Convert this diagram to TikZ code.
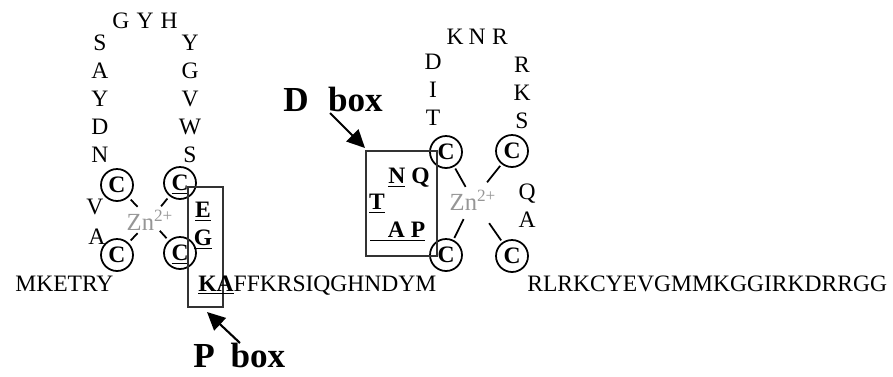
\documentclass[tikz,border=0pt]{standalone}
\usepackage{fontspec}
\setmainfont{Liberation Serif}
\usepackage{tikz}
\usetikzlibrary{arrows.meta, calc}
\definecolor{ZnGray}{RGB}{150, 150, 150}
\definecolor{BoxGray}{RGB}{50, 50, 50}

\begin{document}
\begin{tikzpicture}[x=0.02cm, y=-0.02cm,
    every node/.style={font=\fontsize{13.4}{16}\selectfont, inner sep=0pt},
    res/.style={text height=8.9pt, text depth=0pt},
    keyres/.style={res, font=\fontsize{13.4}{16}\selectfont\bfseries},
    cys/.style={res, circle, draw, line width=1pt, minimum size=0.64cm, font=\fontsize{13.4}{16}\selectfont\bfseries},
    zn/.style={text=ZnGray, font=\fontsize{14}{16}\selectfont},
    spoke/.style={line width=1pt},
    boxline/.style={draw=BoxGray, line width=1pt},
    boxlabel/.style={font=\fontsize{20}{24}\selectfont\bfseries, text height=13.2pt, text depth=0pt},
    pointer/.style={line width=1.2pt, -{Triangle[length=0.36cm, width=0.34cm]}}]
    \useasboundingbox (0,0) rectangle (893,376);

    % First zinc finger
    \foreach \l [count=\i] in {S,A,Y,D,N}
        \node[res] (fa\i) at (100,15+28*\i) {\l};
    \foreach \l [count=\i] in {Y,G,V,W,S}
        \node[res] (fb\i) at (190,15+28*\i) {\l};
    \foreach \l/\x [count=\i] in {G/121, Y/145, H/169}
        \node[res] (ft\i) at (\x,21) {\l};
    \node[res] (fv) at (95,207) {V};
    \node[res] (fw) at (97,237) {A};

    \node[cys] (c1) at (117,185) {C};
    \node[cys] (c2) at (180,183) {\underline{C}};
    \node[cys] (c3) at (117,255) {C};
    \node[cys] (c4) at (180,253) {\underline{C}};
    \node[zn] (zn1) at (150,220) {Zn\textsuperscript{2+}};
    \foreach \c in {c1,c2,c3,c4}
        \draw[spoke] ($(\c)!0.4cm!(zn1)$) -- ($(\c)!0.6cm!(zn1)$);

    % P box
    \node[keyres] (pE) at (203,210) {\underline{E}};
    \node[keyres] (pG) at (203,238) {\underline{G}};
    \draw[boxline] (188,187) rectangle (223,307);
    \node[boxlabel, anchor=west] (plabel) at (193,356) {P\hspace{9pt}box};
    \coordinate (ptail) at (240,343);
    \coordinate (ptip) at (207,312);
    \draw[pointer] (ptail) -- (ptip);

    % Sequence
    \node[anchor=base west] (seq1) at (15,291) {MKETRY};
    \node[anchor=base west] (seq2) at (198,291) {\underline{\textbf{KA}}FFKRSIQGHNDYM};
    \node[anchor=base west] (seq3) at (527,291) {RLRKCYEVGMMKGGIRKDRRGG};

    % Second zinc finger
    \foreach \l [count=\i] in {D,I,T}
        \node[res] (sa\i) at (433,34+28*\i) {\l};
    \foreach \l/\x [count=\i] in {K/455, N/477, R/500}
        \node[res] (st\i) at (\x,37) {\l};
    \foreach \l [count=\i] in {R,K,S}
        \node[res] (sb\i) at (522,37+28*\i) {\l};
    \node[res] (sq) at (527,192) {Q};
    \node[res] (sw) at (527,220) {A};

    \node[cys] (d1) at (446,152) {C};
    \node[cys] (d2) at (512,151) {C};
    \node[cys] (d3) at (446,255) {C};
    \node[cys] (d4) at (512,256) {C};
    \node[zn] (zn2) at (473,200) {Zn\textsuperscript{2+}};
    \foreach \c in {d1,d2,d3,d4}
        \draw[spoke] ($(\c)!0.38cm!(zn2)$) -- ($(\c)!0.8cm!(zn2)$);

    % D box
    \node[keyres] (dNQ) at (409,176) {\underline{N} Q};
    \node[keyres] (dT) at (377,202) {\underline{T}};
    \node[keyres, anchor=west] (dAP) at (370,230) {\underline{\hspace{10pt}A P}};
    \draw[boxline] (366,151) rectangle (437,256);
    \node[boxlabel, anchor=west] (dlabel) at (283,100) {D\hspace{11pt}box};
    \coordinate (dtail) at (330,113);
    \coordinate (dtip) at (365,148);
    \draw[pointer] (dtail) -- (dtip);
\end{tikzpicture}
\end{document}
